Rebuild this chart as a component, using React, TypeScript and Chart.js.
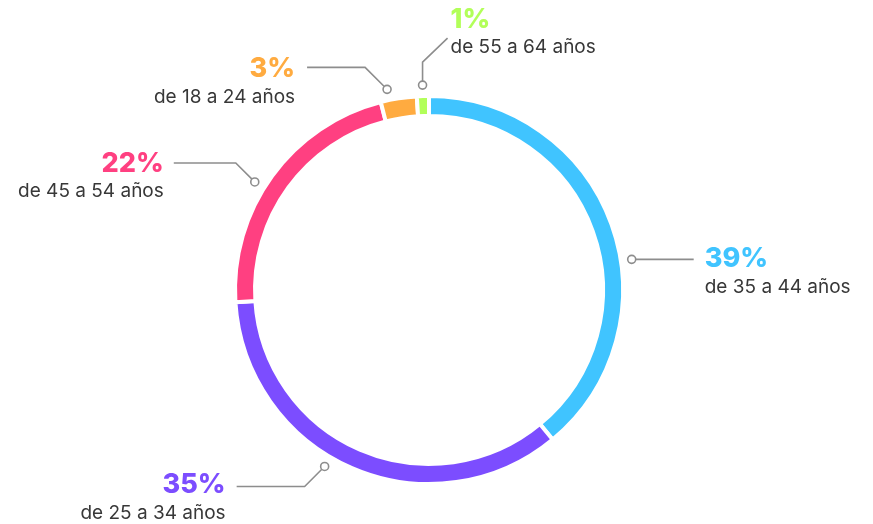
import React, { useEffect, useRef } from 'react';
import { Chart, registerables } from 'chart.js';

Chart.register(...registerables);

const categories = ['de 35 a 44 años', 'de 25 a 34 años', 'de 45 a 54 años', 'de 18 a 24 años', 'de 55 a 64 años'];
const shares = [39, 35, 22, 3, 1];
const percentLabels = ['39%', '35%', '22%', '3%', '1%'];
const colors = ['#40C4FF', '#7C4DFF', '#FF4081', '#FFAB40', '#B2FF59'];

// leader-line layout (angle offset from slice middle in degrees, path steps, text side)
const leaders = [
  { angle: 11.2, path: [[62, 0]], align: 'left', gap: 11, pctDy: 0, subDy: 28 },
  { angle: 7.2, path: [[-20, 20], [-68, 0]], align: 'right', gap: 11, pctDy: -2, subDy: 27 },
  { angle: -4.2, path: [[-19, -19], [-62, 0]], align: 'right', gap: 10, pctDy: 1, subDy: 28 },
  { angle: -2.8, path: [[-22, -22], [-58, 0]], align: 'right', gap: 12, pctDy: 2, subDy: 30 },
  { angle: 0, path: [[0, -23], [25, -24]], align: 'left', gap: 3, pctDy: -18, subDy: 9 },
];

const labelPlugin = {
  id: 'leaderLabels',
  afterDraw(chart: any) {
    const ctx = chart.ctx;
    const meta = chart.getDatasetMeta(0);
    meta.data.forEach((arc: any, i: number) => {
      const p = arc.getProps(['x', 'y', 'startAngle', 'endAngle', 'outerRadius'], true);
      const L = leaders[i];
      const mid = (p.startAngle + p.endAngle) / 2 + (L.angle * Math.PI) / 180;
      const R = p.outerRadius + 11;
      const dx = p.x + R * Math.cos(mid);
      const dy = p.y + R * Math.sin(mid);
      ctx.save();
      ctx.strokeStyle = '#8d8d8d';
      ctx.lineWidth = 1.6;
      ctx.beginPath();
      let cx = dx;
      let cy = dy;
      const r0 = 4;
      const first = L.path[0];
      const flen = Math.hypot(first[0], first[1]);
      ctx.moveTo(cx + (first[0] / flen) * r0, cy + (first[1] / flen) * r0);
      L.path.forEach((s) => {
        cx += s[0];
        cy += s[1];
        ctx.lineTo(cx, cy);
      });
      ctx.stroke();
      ctx.beginPath();
      ctx.arc(dx, dy, r0, 0, Math.PI * 2);
      ctx.fillStyle = '#ffffff';
      ctx.fill();
      ctx.stroke();
      const tx = L.align === 'left' ? cx + L.gap : cx - L.gap;
      ctx.textAlign = L.align as CanvasTextAlign;
      ctx.textBaseline = 'middle';
      ctx.fillStyle = colors[i];
      ctx.font = '800 27px Inter';
      ctx.fillText(percentLabels[i], tx, cy + L.pctDy);
      ctx.fillStyle = '#383838';
      ctx.font = '400 19px Inter';
      ctx.fillText(categories[i], tx, cy + L.subDy);
      ctx.restore();
    });
  },
};

export default function App() {
  const ref = useRef<HTMLCanvasElement | null>(null);
  useEffect(() => {
    if (!ref.current) return;
    const chart = new Chart(ref.current, {
      type: 'doughnut',
      data: {
        labels: categories,
        datasets: [
          {
            data: shares,
            backgroundColor: colors,
            borderColor: '#ffffff',
            borderWidth: 4,
            hoverOffset: 0,
          },
        ],
      },
      options: {
        responsive: false,
        animation: false,
        events: [],
        radius: 194,
        cutout: '89.69%',
        rotation: 0,
        layout: { padding: { left: 37, right: 52, top: 56, bottom: 0 } },
        plugins: { legend: { display: false }, tooltip: { enabled: false } },
      } as any,
      plugins: [labelPlugin],
    });
    return () => chart.destroy();
  }, []);
  return (
    <div style={{ position: 'fixed', left: 0, top: 0, width: 873, height: 524, background: '#fff' }}>
      <canvas ref={ref} width={873} height={524} />
    </div>
  );
}
